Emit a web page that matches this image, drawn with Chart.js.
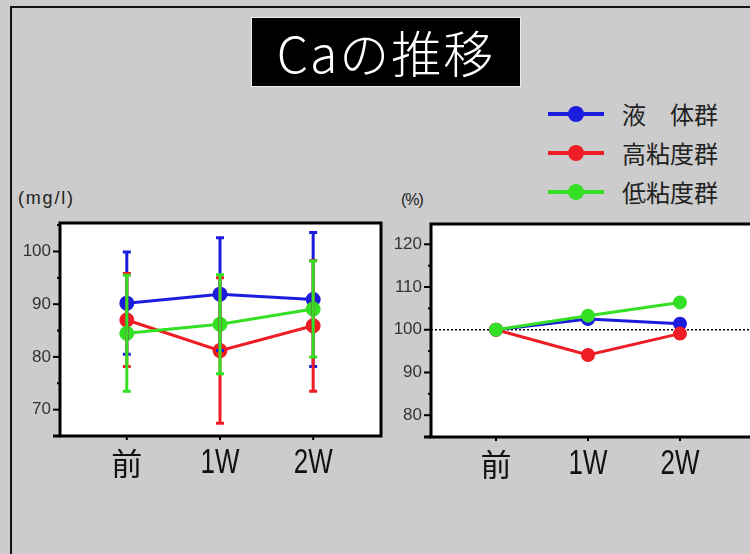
<!DOCTYPE html>
<html>
<head>
<meta charset="utf-8">
<script src="https://cdn.jsdelivr.net/npm/chart.js@4"></script>
<style>
  html, body { margin: 0; padding: 0; }
  body { width: 750px; height: 554px; overflow: hidden; background: #cccccc; position: relative;
         font-family: "Noto Sans CJK JP", sans-serif; }
  #frame { position: absolute; left: 10px; top: 6px; width: 800px; height: 600px;
           border-left: 2px solid #111; border-top: 2px solid #111; }
  #title { position: absolute; left: 251px; top: 17px; width: 270px; height: 70px; box-sizing: border-box;
           background: #000; border: 1px solid #eee; color: #fff; font-size: 50px; font-weight: 300;
           line-height: 66px; text-align: center; letter-spacing: 2px; }
  .unit { position: absolute; font-family: "Liberation Sans", sans-serif;
          font-size: 18px; color: #222; }
  #legend { position: absolute; left: 548px; top: 94px; }
  .row { position: relative; height: 39px; width: 190px; }
  .row .ln { position: absolute; left: 0; top: 18px; width: 56px; height: 4px; }
  .row .dot { position: absolute; left: 20px; top: 12px; width: 16px; height: 16px; border-radius: 50%; }
  .row .tx { position: absolute; left: 74px; top: 3px; font-size: 24px; line-height: 34px; color: #222; }
  canvas { position: absolute; }
</style>
</head>
<body>
<div id="frame"></div>
<div id="title">Caの推移</div>
<div class="unit" style="left:18px; top:188px; letter-spacing:1.8px;">(mg/l)</div>
<div class="unit" style="left:401px; top:191px; font-size:16px; letter-spacing:-1px;">(%)</div>
<div id="legend"></div>
<div style="position:absolute;left:0;top:190px;width:390px;height:300px;"><canvas id="left"></canvas></div>
<div style="position:absolute;left:370px;top:190px;width:400px;height:300px;"><canvas id="right"></canvas></div>

<script>
const labels = ["前", "1W", "2W"];
const groupNames = ["液\u3000体群", "高粘度群", "低粘度群"];
const groupColors = ["#1c1cdc", "#ee1d25", "#35e024"];

// Ca (mg/l), mean and SD
const liquidMean = [90.2, 91.9, 90.9];
const liquidSd = [9.7, 10.7, 12.7];
const highMean = [87.0, 81.2, 85.9];
const highSd = [8.8, 13.8, 12.4];
const lowMean = [84.5, 86.2, 89.1];
const lowSd = [11.0, 9.4, 9.1];

// change from baseline (%)
const liquidPct = [100, 102.5, 101.4];
const highPct = [100, 94.1, 99.1];
const lowPct = [100, 103.3, 106.4];
const baseline = 100;

const leftTicks = [65, 67.5, 70, 72.5, 75, 77.5, 80, 82.5, 85, 87.5, 90, 92.5, 95, 97.5, 100, 102.5, 105];
const rightTicks = [75, 80, 85, 90, 95, 100, 105, 110, 115, 120];

// legend
const legend = document.getElementById("legend");
groupNames.forEach(function (name, i) {
  const row = document.createElement("div");
  row.className = "row";
  row.innerHTML = '<div class="ln" style="background:' + groupColors[i] + '"></div>' +
    '<div class="dot" style="background:' + groupColors[i] + '"></div>' +
    '<div class="tx">' + name + "</div>";
  legend.appendChild(row);
});

function pts(values) {
  return values.map(function (v, i) { return { x: i, y: v }; });
}

function makeSets(series, radius) {
  return series.map(function (vals, i) {
    return {
      label: groupNames[i],
      data: pts(vals),
      borderColor: groupColors[i],
      backgroundColor: groupColors[i],
      pointBackgroundColor: groupColors[i],
      pointBorderColor: groupColors[i],
      borderWidth: 3,
      pointRadius: radius,
      pointHoverRadius: radius,
      order: 2 - i,
      fill: false,
    };
  });
}

// frame, ticks and category labels
const framePlugin = {
  id: "frame",
  beforeDraw: function (chart) {
    const a = chart.chartArea, ctx = chart.ctx;
    ctx.save();
    ctx.fillStyle = "#fff";
    ctx.fillRect(a.left, a.top, a.right - a.left, a.bottom - a.top);
    ctx.restore();
  },
  afterDraw: function (chart) {
    const a = chart.chartArea, ctx = chart.ctx;
    const ys = chart.scales.y, xs = chart.scales.x;
    ctx.save();
    ctx.strokeStyle = "#000";
    ctx.lineWidth = 3;
    ctx.strokeRect(a.left, a.top, a.right - a.left, a.bottom - a.top);
    ctx.beginPath();
    ctx.moveTo(a.left - 7, a.bottom);
    ctx.lineTo(a.left, a.bottom);
    ctx.stroke();
    ctx.lineWidth = 2;
    ys.ticks.forEach(function (t) {
      const y = ys.getPixelForValue(t.value);
      const len = t.value % 10 === 0 ? 7 : 3;
      ctx.beginPath();
      ctx.moveTo(a.left - len, y);
      ctx.lineTo(a.left, y);
      ctx.stroke();
    });
    ctx.fillStyle = "#111";
    ctx.textAlign = "center";
    ctx.textBaseline = "middle";
    labels.forEach(function (lab, i) {
      const x = xs.getPixelForValue(i);
      ctx.beginPath();
      ctx.moveTo(x, a.bottom);
      ctx.lineTo(x, a.bottom + 4);
      ctx.stroke();
      ctx.save();
      ctx.translate(x, a.bottom + 27);
      if (/^[\x00-\x7f]+$/.test(lab)) {
        ctx.scale(0.74, 1);
        ctx.font = '35px "Liberation Sans Narrow", "Liberation Sans", sans-serif';
      } else {
        ctx.font = '31px "Noto Sans CJK JP", sans-serif';
      }
      ctx.fillText(lab, 0, 0);
      ctx.restore();
    });
    ctx.restore();
  },
};

// SD bars on the left chart
const errorPlugin = {
  id: "errors",
  afterDatasetsDraw: function (chart) {
    const ctx = chart.ctx, xs = chart.scales.x, ys = chart.scales.y;
    const sds = [liquidSd, highSd, lowSd];
    ctx.save();
    ctx.lineWidth = 3;
    chart.data.datasets.forEach(function (ds, i) {
      ctx.strokeStyle = groupColors[i];
      ds.data.forEach(function (p, j) {
        const x = xs.getPixelForValue(p.x);
        const top = ys.getPixelForValue(p.y + sds[i][j]);
        const bot = ys.getPixelForValue(p.y - sds[i][j]);
        ctx.beginPath();
        ctx.moveTo(x, top);
        ctx.lineTo(x, bot);
        ctx.moveTo(x - 4, top);
        ctx.lineTo(x + 4, top);
        ctx.moveTo(x - 4, bot);
        ctx.lineTo(x + 4, bot);
        ctx.stroke();
      });
    });
    ctx.restore();
  },
};

// dotted baseline on the right chart
const basePlugin = {
  id: "base",
  beforeDatasetsDraw: function (chart) {
    const a = chart.chartArea, ctx = chart.ctx;
    const y = chart.scales.y.getPixelForValue(baseline);
    ctx.save();
    ctx.strokeStyle = "#000";
    ctx.lineWidth = 1.5;
    ctx.setLineDash([2, 2]);
    ctx.beginPath();
    ctx.moveTo(a.left, y);
    ctx.lineTo(a.right, y);
    ctx.stroke();
    ctx.restore();
  },
};

function makeOptions(xmin, xmax, ymin, ymax, tickList, yWidth, xHeight, padTop, padRight) {
  return {
    responsive: true,
    maintainAspectRatio: false,
    animation: false,
    layout: { padding: { top: padTop, right: padRight, left: 0, bottom: 0 } },
    plugins: { legend: { display: false }, tooltip: { enabled: false } },
    scales: {
      x: {
        type: "linear",
        min: xmin,
        max: xmax,
        grid: { display: false },
        border: { display: false },
        ticks: { display: false },
        afterFit: function (s) { s.height = xHeight; },
      },
      y: {
        min: ymin,
        max: ymax,
        grid: { display: false, drawTicks: false },
        border: { display: false },
        afterBuildTicks: function (s) {
          s.ticks = tickList.map(function (v) { return { value: v }; });
        },
        ticks: {
          padding: 9,
          color: "#333",
          font: { family: '"Liberation Sans Narrow", "Liberation Sans", sans-serif', size: 17 },
          callback: function (v) { return v % 10 === 0 ? v : ""; },
        },
        afterFit: function (s) { s.width = yWidth; },
      },
    },
  };
}

new Chart(document.getElementById("left"), {
  type: "line",
  data: { datasets: makeSets([liquidMean, highMean, lowMean], 6) },
  options: makeOptions(-0.717, 2.728, 65, 105.4, leftTicks, 60, 54, 33, 7),
  plugins: [framePlugin, errorPlugin],
});

new Chart(document.getElementById("right"), {
  type: "line",
  data: { datasets: makeSets([liquidPct, highPct, lowPct], 5.5) },
  options: makeOptions(-0.707, 2.87, 74.9, 124.75, rightTicks, 61, 53, 34, 10),
  plugins: [framePlugin, basePlugin],
});
</script>
</body>
</html>
